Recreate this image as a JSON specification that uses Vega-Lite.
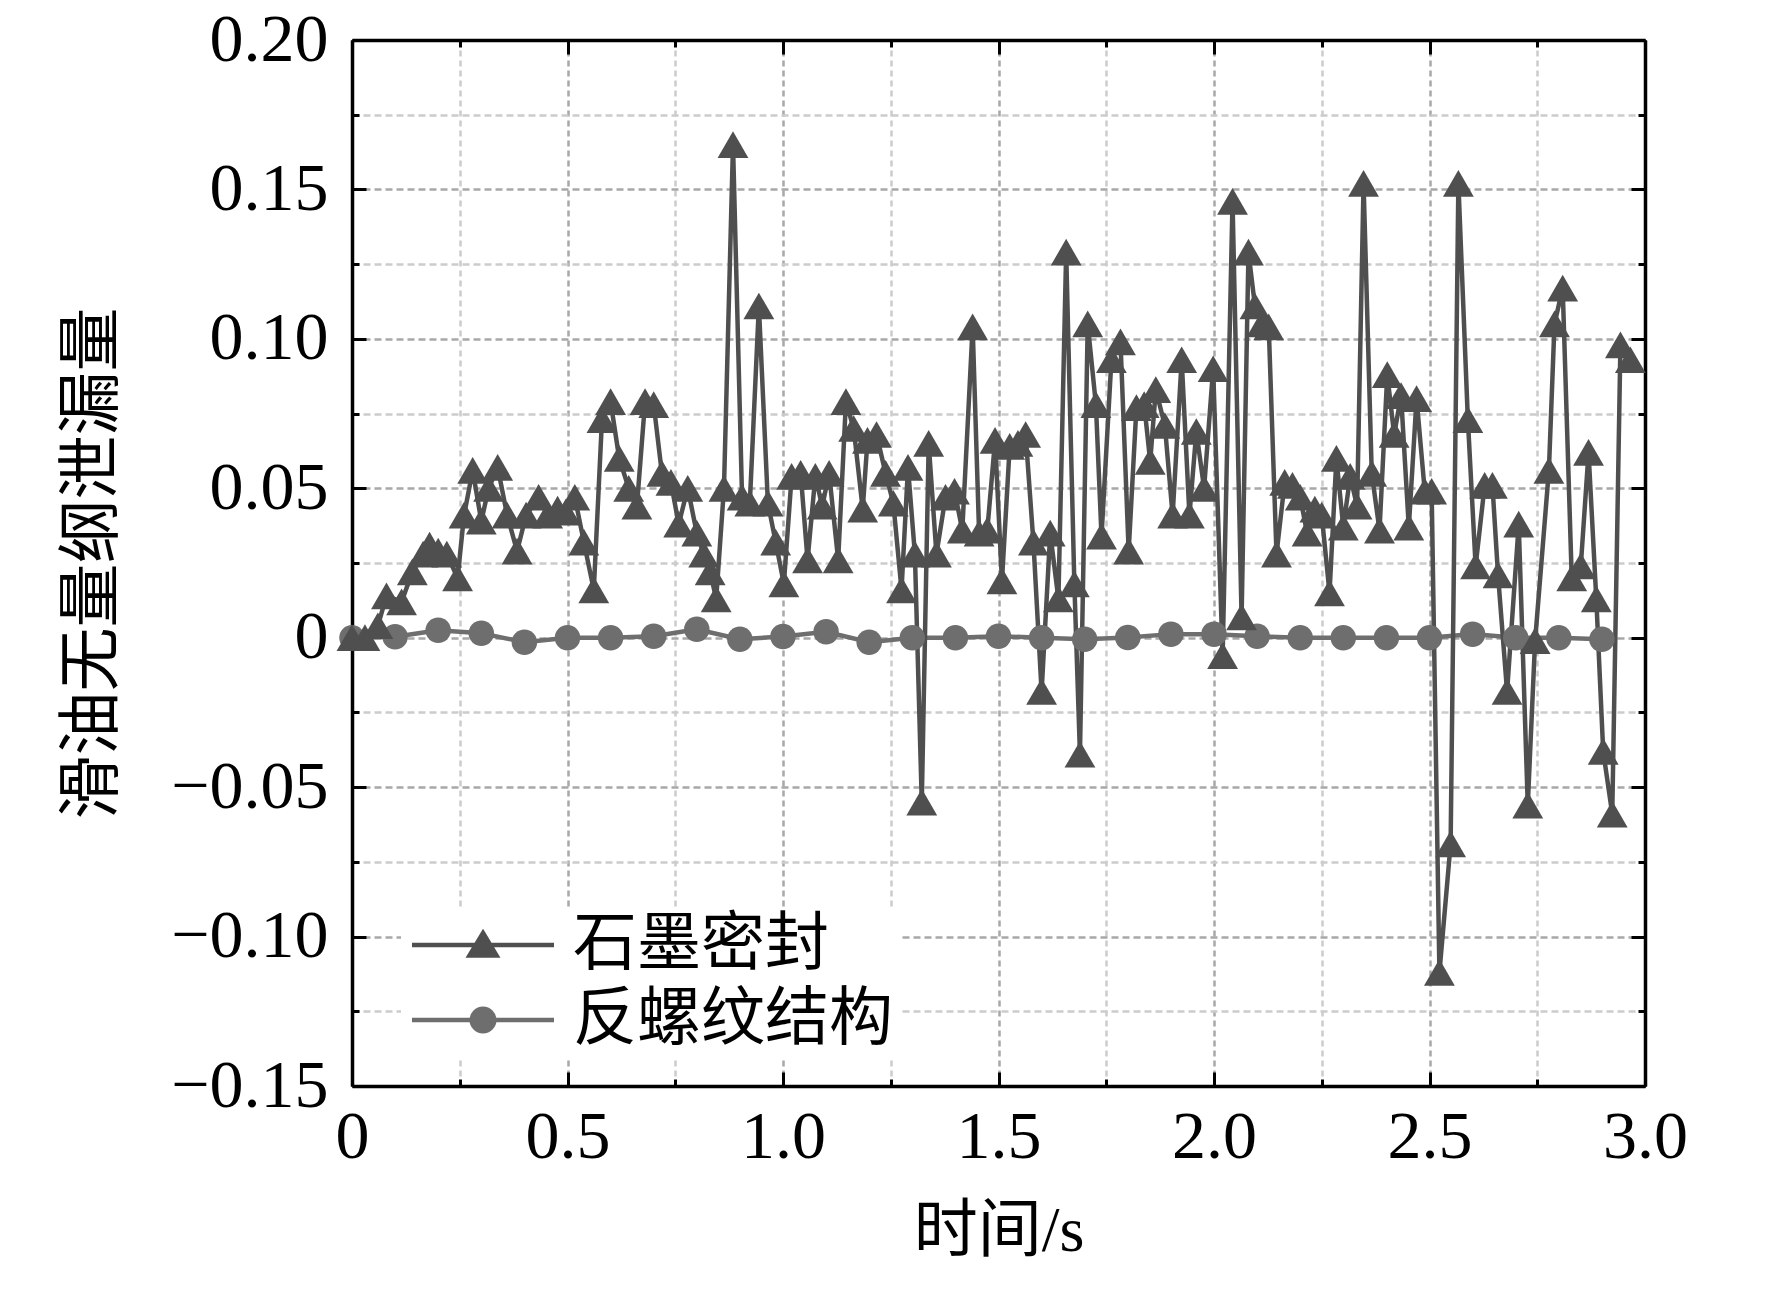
{
  "$schema": "https://vega.github.io/schema/vega-lite/v6.json",
  "width": 1293,
  "height": 1046,
  "autosize": {"type": "none"},
  "padding": {"left": 352, "top": 40, "right": 127, "bottom": 205},
  "background": "white",
  "config": {"font": "Liberation Serif", "view": {"stroke": null}},
  "data": {
    "values": [
      {"series": "反螺纹结构", "t": 0.0, "v": 0.0},
      {"series": "反螺纹结构", "t": 0.1, "v": 0.0003},
      {"series": "反螺纹结构", "t": 0.2, "v": 0.0025},
      {"series": "反螺纹结构", "t": 0.3, "v": 0.0015},
      {"series": "反螺纹结构", "t": 0.4, "v": -0.0015},
      {"series": "反螺纹结构", "t": 0.5, "v": 0.0},
      {"series": "反螺纹结构", "t": 0.6, "v": 0.0},
      {"series": "反螺纹结构", "t": 0.7, "v": 0.0005},
      {"series": "反螺纹结构", "t": 0.8, "v": 0.0028},
      {"series": "反螺纹结构", "t": 0.9, "v": -0.0005},
      {"series": "反螺纹结构", "t": 1.0, "v": 0.0004},
      {"series": "反螺纹结构", "t": 1.1, "v": 0.002},
      {"series": "反螺纹结构", "t": 1.2, "v": -0.0015},
      {"series": "反螺纹结构", "t": 1.3, "v": 0.0},
      {"series": "反螺纹结构", "t": 1.4, "v": 0.0},
      {"series": "反螺纹结构", "t": 1.5, "v": 0.0005},
      {"series": "反螺纹结构", "t": 1.6, "v": 0.0},
      {"series": "反螺纹结构", "t": 1.7, "v": -0.0005},
      {"series": "反螺纹结构", "t": 1.8, "v": 0.0001},
      {"series": "反螺纹结构", "t": 1.9, "v": 0.0012},
      {"series": "反螺纹结构", "t": 2.0, "v": 0.0012},
      {"series": "反螺纹结构", "t": 2.1, "v": 0.0005},
      {"series": "反螺纹结构", "t": 2.2, "v": 0.0},
      {"series": "反螺纹结构", "t": 2.3, "v": 0.0},
      {"series": "反螺纹结构", "t": 2.4, "v": 0.0},
      {"series": "反螺纹结构", "t": 2.5, "v": 0.0},
      {"series": "反螺纹结构", "t": 2.6, "v": 0.0012},
      {"series": "反螺纹结构", "t": 2.7, "v": 0.0},
      {"series": "反螺纹结构", "t": 2.8, "v": 0.0},
      {"series": "反螺纹结构", "t": 2.9, "v": -0.0005},
      {"series": "石墨密封", "t": 0.0, "v": 0.0},
      {"series": "石墨密封", "t": 0.03, "v": 0.0},
      {"series": "石墨密封", "t": 0.06, "v": 0.004},
      {"series": "石墨密封", "t": 0.08, "v": 0.014},
      {"series": "石墨密封", "t": 0.115, "v": 0.012},
      {"series": "石墨密封", "t": 0.14, "v": 0.022},
      {"series": "石墨密封", "t": 0.165, "v": 0.028},
      {"series": "石墨密封", "t": 0.18, "v": 0.031},
      {"series": "石墨密封", "t": 0.2, "v": 0.029},
      {"series": "石墨密封", "t": 0.22, "v": 0.028},
      {"series": "石墨密封", "t": 0.245, "v": 0.02},
      {"series": "石墨密封", "t": 0.26, "v": 0.041},
      {"series": "石墨密封", "t": 0.28, "v": 0.056},
      {"series": "石墨密封", "t": 0.3, "v": 0.039},
      {"series": "石墨密封", "t": 0.317, "v": 0.05},
      {"series": "石墨密封", "t": 0.338, "v": 0.057},
      {"series": "石墨密封", "t": 0.36, "v": 0.041},
      {"series": "石墨密封", "t": 0.383, "v": 0.029},
      {"series": "石墨密封", "t": 0.404, "v": 0.041},
      {"series": "石墨密封", "t": 0.433, "v": 0.047},
      {"series": "石墨密封", "t": 0.454, "v": 0.041},
      {"series": "石墨密封", "t": 0.477, "v": 0.043},
      {"series": "石墨密封", "t": 0.496, "v": 0.042},
      {"series": "石墨密封", "t": 0.517, "v": 0.047},
      {"series": "石墨密封", "t": 0.538, "v": 0.032},
      {"series": "石墨密封", "t": 0.561, "v": 0.016},
      {"series": "石墨密封", "t": 0.58, "v": 0.073},
      {"series": "石墨密封", "t": 0.6, "v": 0.079},
      {"series": "石墨密封", "t": 0.62, "v": 0.06},
      {"series": "石墨密封", "t": 0.642, "v": 0.05},
      {"series": "石墨密封", "t": 0.661, "v": 0.044},
      {"series": "石墨密封", "t": 0.68, "v": 0.079},
      {"series": "石墨密封", "t": 0.7, "v": 0.078},
      {"series": "石墨密封", "t": 0.719, "v": 0.055},
      {"series": "石墨密封", "t": 0.74, "v": 0.052},
      {"series": "石墨密封", "t": 0.758, "v": 0.038},
      {"series": "石墨密封", "t": 0.779, "v": 0.05},
      {"series": "石墨密封", "t": 0.8, "v": 0.035},
      {"series": "石墨密封", "t": 0.816, "v": 0.028},
      {"series": "石墨密封", "t": 0.831, "v": 0.022},
      {"series": "石墨密封", "t": 0.845, "v": 0.013},
      {"series": "石墨密封", "t": 0.863, "v": 0.05},
      {"series": "石墨密封", "t": 0.884, "v": 0.165},
      {"series": "石墨密封", "t": 0.905, "v": 0.047},
      {"series": "石墨密封", "t": 0.923, "v": 0.045},
      {"series": "石墨密封", "t": 0.944, "v": 0.111},
      {"series": "石墨密封", "t": 0.965, "v": 0.045},
      {"series": "石墨密封", "t": 0.983, "v": 0.032},
      {"series": "石墨密封", "t": 1.002, "v": 0.018},
      {"series": "石墨密封", "t": 1.02, "v": 0.054},
      {"series": "石墨密封", "t": 1.041, "v": 0.055},
      {"series": "石墨密封", "t": 1.057, "v": 0.026},
      {"series": "石墨密封", "t": 1.075, "v": 0.054},
      {"series": "石墨密封", "t": 1.091, "v": 0.044},
      {"series": "石墨密封", "t": 1.107, "v": 0.055},
      {"series": "石墨密封", "t": 1.128, "v": 0.026},
      {"series": "石墨密封", "t": 1.146, "v": 0.079},
      {"series": "石墨密封", "t": 1.164, "v": 0.07},
      {"series": "石墨密封", "t": 1.185, "v": 0.043},
      {"series": "石墨密封", "t": 1.196, "v": 0.066},
      {"series": "石墨密封", "t": 1.217, "v": 0.068},
      {"series": "石墨密封", "t": 1.238, "v": 0.055},
      {"series": "石墨密封", "t": 1.256, "v": 0.045},
      {"series": "石墨密封", "t": 1.275, "v": 0.016},
      {"series": "石墨密封", "t": 1.29, "v": 0.057},
      {"series": "石墨密封", "t": 1.306, "v": 0.028},
      {"series": "石墨密封", "t": 1.322, "v": -0.055},
      {"series": "石墨密封", "t": 1.338, "v": 0.065},
      {"series": "石墨密封", "t": 1.356, "v": 0.028},
      {"series": "石墨密封", "t": 1.377, "v": 0.047},
      {"series": "石墨密封", "t": 1.398, "v": 0.049},
      {"series": "石墨密封", "t": 1.416, "v": 0.036},
      {"series": "石墨密封", "t": 1.44, "v": 0.104},
      {"series": "石墨密封", "t": 1.455, "v": 0.035},
      {"series": "石墨密封", "t": 1.474, "v": 0.036},
      {"series": "石墨密封", "t": 1.492, "v": 0.066},
      {"series": "石墨密封", "t": 1.508, "v": 0.019},
      {"series": "石墨密封", "t": 1.526, "v": 0.064},
      {"series": "石墨密封", "t": 1.545, "v": 0.065},
      {"series": "石墨密封", "t": 1.563, "v": 0.068},
      {"series": "石墨密封", "t": 1.581, "v": 0.032},
      {"series": "石墨密封", "t": 1.6, "v": -0.018},
      {"series": "石墨密封", "t": 1.62, "v": 0.035},
      {"series": "石墨密封", "t": 1.639, "v": 0.013},
      {"series": "石墨密封", "t": 1.657, "v": 0.129},
      {"series": "石墨密封", "t": 1.676, "v": 0.018},
      {"series": "石墨密封", "t": 1.689, "v": -0.039},
      {"series": "石墨密封", "t": 1.707, "v": 0.105},
      {"series": "石墨密封", "t": 1.726, "v": 0.078},
      {"series": "石墨密封", "t": 1.739, "v": 0.034},
      {"series": "石墨密封", "t": 1.762, "v": 0.093},
      {"series": "石墨密封", "t": 1.783, "v": 0.099},
      {"series": "石墨密封", "t": 1.802, "v": 0.029},
      {"series": "石墨密封", "t": 1.82, "v": 0.077},
      {"series": "石墨密封", "t": 1.838, "v": 0.078},
      {"series": "石墨密封", "t": 1.852, "v": 0.059},
      {"series": "石墨密封", "t": 1.865, "v": 0.083},
      {"series": "石墨密封", "t": 1.886, "v": 0.071},
      {"series": "石墨密封", "t": 1.904, "v": 0.041},
      {"series": "石墨密封", "t": 1.925, "v": 0.093},
      {"series": "石墨密封", "t": 1.943, "v": 0.041},
      {"series": "石墨密封", "t": 1.959, "v": 0.069},
      {"series": "石墨密封", "t": 1.977, "v": 0.05},
      {"series": "石墨密封", "t": 1.998, "v": 0.09},
      {"series": "石墨密封", "t": 2.02, "v": -0.006},
      {"series": "石墨密封", "t": 2.043, "v": 0.146},
      {"series": "石墨密封", "t": 2.064, "v": 0.007},
      {"series": "石墨密封", "t": 2.08, "v": 0.129},
      {"series": "石墨密封", "t": 2.095, "v": 0.111},
      {"series": "石墨密封", "t": 2.111, "v": 0.105},
      {"series": "石墨密封", "t": 2.127, "v": 0.104},
      {"series": "石墨密封", "t": 2.145, "v": 0.028},
      {"series": "石墨密封", "t": 2.164, "v": 0.052},
      {"series": "石墨密封", "t": 2.182, "v": 0.051},
      {"series": "石墨密封", "t": 2.2, "v": 0.047},
      {"series": "石墨密封", "t": 2.216, "v": 0.035},
      {"series": "石墨密封", "t": 2.234, "v": 0.043},
      {"series": "石墨密封", "t": 2.25, "v": 0.041},
      {"series": "石墨密封", "t": 2.268, "v": 0.015},
      {"series": "石墨密封", "t": 2.284, "v": 0.06},
      {"series": "石墨密封", "t": 2.3, "v": 0.037},
      {"series": "石墨密封", "t": 2.316, "v": 0.054},
      {"series": "石墨密封", "t": 2.332, "v": 0.044},
      {"series": "石墨密封", "t": 2.347, "v": 0.152},
      {"series": "石墨密封", "t": 2.366, "v": 0.055},
      {"series": "石墨密封", "t": 2.384, "v": 0.036},
      {"series": "石墨密封", "t": 2.402, "v": 0.088},
      {"series": "石墨密封", "t": 2.418, "v": 0.068},
      {"series": "石墨密封", "t": 2.434, "v": 0.081},
      {"series": "石墨密封", "t": 2.452, "v": 0.037},
      {"series": "石墨密封", "t": 2.47, "v": 0.08},
      {"series": "石墨密封", "t": 2.489, "v": 0.049},
      {"series": "石墨密封", "t": 2.505, "v": 0.049},
      {"series": "石墨密封", "t": 2.523, "v": -0.112},
      {"series": "石墨密封", "t": 2.549, "v": -0.069},
      {"series": "石墨密封", "t": 2.567, "v": 0.152},
      {"series": "石墨密封", "t": 2.589, "v": 0.073},
      {"series": "石墨密封", "t": 2.607, "v": 0.024},
      {"series": "石墨密封", "t": 2.628, "v": 0.051},
      {"series": "石墨密封", "t": 2.646, "v": 0.051},
      {"series": "石墨密封", "t": 2.659, "v": 0.021},
      {"series": "石墨密封", "t": 2.68, "v": -0.018},
      {"series": "石墨密封", "t": 2.707, "v": 0.038},
      {"series": "石墨密封", "t": 2.728, "v": -0.056},
      {"series": "石墨密封", "t": 2.745, "v": -0.001},
      {"series": "石墨密封", "t": 2.777, "v": 0.056},
      {"series": "石墨密封", "t": 2.79, "v": 0.105},
      {"series": "石墨密封", "t": 2.809, "v": 0.117},
      {"series": "石墨密封", "t": 2.83, "v": 0.02},
      {"series": "石墨密封", "t": 2.851, "v": 0.024},
      {"series": "石墨密封", "t": 2.869, "v": 0.062},
      {"series": "石墨密封", "t": 2.887, "v": 0.013},
      {"series": "石墨密封", "t": 2.903, "v": -0.038},
      {"series": "石墨密封", "t": 2.924, "v": -0.059},
      {"series": "石墨密封", "t": 2.943, "v": 0.098},
      {"series": "石墨密封", "t": 2.966, "v": 0.093}
    ]
  },
  "layer": [
    {
      "mark": {"type": "line", "strokeWidth": 4.5},
      "encoding": {
        "x": {
          "field": "t", "type": "quantitative",
          "scale": {"domain": [0, 3], "nice": false, "zero": false},
          "axis": {
            "orient": "bottom",
            "values": [0, 0.25, 0.5, 0.75, 1, 1.25, 1.5, 1.75, 2, 2.25, 2.5, 2.75, 3],
            "labelExpr": "round(datum.value*4) % 2 == 0 ? (datum.value == 0 ? '0' : format(datum.value, '.1f')) : ''",
            "labelOverlap": false, "labelFlush": false,
            "labelFont": "Liberation Serif", "labelFontSize": 68, "labelColor": "black", "labelPadding": 31,
            "grid": true,
            "gridColor": {"condition": {"test": "round(datum.value*4) % 2 == 0", "value": "#a8a8a8"}, "value": "#cccccc"},
            "gridDash": [6, 4], "gridWidth": 2.5,
            "domainColor": "black", "domainWidth": 3.5,
            "tickColor": "black", "tickWidth": 3,
            "tickSize": {"condition": {"test": "round(datum.value*4) % 2 == 0", "value": -14}, "value": -7},
            "title": "时间/s",
            "titleFont": "Liberation Serif, Noto Sans CJK SC", "titleFontSize": 64, "titleFontWeight": "normal", "titleColor": "black",
            "titlePadding": 21
          }
        },
        "y": {
          "field": "v", "type": "quantitative",
          "scale": {"domain": [-0.15, 0.2], "nice": false, "zero": false},
          "axis": {
            "orient": "left",
            "values": [-0.15, -0.125, -0.1, -0.075, -0.05, -0.025, 0, 0.025, 0.05, 0.075, 0.1, 0.125, 0.15, 0.175, 0.2],
            "labelExpr": "round(datum.value*40) % 2 == 0 ? (datum.value == 0 ? '0' : replace(format(datum.value, '.2f'), '-', '−')) : ''",
            "labelOverlap": false, "labelFlush": false,
            "labelFont": "Liberation Serif", "labelFontSize": 68, "labelColor": "black", "labelPadding": 38,
            "grid": true,
            "gridColor": {"condition": {"test": "round(datum.value*40) % 2 == 0", "value": "#a8a8a8"}, "value": "#cccccc"},
            "gridDash": [7, 4], "gridWidth": 2.5,
            "domainColor": "black", "domainWidth": 3.5,
            "tickColor": "black", "tickWidth": 3,
            "tickSize": {"condition": {"test": "round(datum.value*40) % 2 == 0", "value": -14}, "value": -7},
            "title": "滑油无量纲泄漏量",
            "titleFont": "Noto Sans CJK SC", "titleFontSize": 64, "titleFontWeight": "normal", "titleColor": "black",
            "titlePadding": 46
          }
        },
        "color": {
          "field": "series", "type": "nominal",
          "scale": {"domain": ["石墨密封", "反螺纹结构"], "range": ["#4f4f4f", "#6e6e6e"]},
          "legend": {
            "title": null,
            "orient": "none", "legendX": 49, "legendY": 867,
            "direction": "vertical",
            "fillColor": "white", "padding": 6,
            "labelFont": "Noto Sans CJK SC", "labelFontSize": 64, "labelColor": "black", "labelLimit": 0,
            "labelOffset": 102, "rowPadding": 11,
            "symbolSize": 2500,
            "symbolStrokeWidth": 4.5,
            "symbolType": {"expr": "datum.value === '石墨密封' ? 'M-1.08,0L4.6,0M1.76,-0.48L2.3,0.42L1.22,0.42Z' : 'M-1.08,0L4.6,0M2.21,0A0.45,0.45,0,1,1,1.31,0A0.45,0.45,0,1,1,2.21,0Z'"},
            "symbolFillColor": {"expr": "datum.value === '石墨密封' ? '#4f4f4f' : '#6e6e6e'"}
          }
        }
      }
    },
    {
      "mark": {"type": "point", "filled": true, "opacity": 1, "strokeWidth": 0},
      "encoding": {
        "x": {
          "field": "t", "type": "quantitative",
          "scale": {"domain": [0, 3], "nice": false, "zero": false},
          "axis": {
            "orient": "top",
            "values": [0, 0.25, 0.5, 0.75, 1, 1.25, 1.5, 1.75, 2, 2.25, 2.5, 2.75, 3],
            "labels": false, "grid": false, "title": null,
            "domainColor": "black", "domainWidth": 3.5,
            "tickColor": "black", "tickWidth": 3,
            "tickSize": {"condition": {"test": "round(datum.value*4) % 2 == 0", "value": -14}, "value": -7}
          }
        },
        "y": {
          "field": "v", "type": "quantitative",
          "scale": {"domain": [-0.15, 0.2], "nice": false, "zero": false},
          "axis": {
            "orient": "right",
            "values": [-0.15, -0.125, -0.1, -0.075, -0.05, -0.025, 0, 0.025, 0.05, 0.075, 0.1, 0.125, 0.15, 0.175, 0.2],
            "labels": false, "grid": false, "title": null,
            "domainColor": "black", "domainWidth": 3.5,
            "tickColor": "black", "tickWidth": 3,
            "tickSize": {"condition": {"test": "round(datum.value*40) % 2 == 0", "value": -14}, "value": -7}
          }
        },
        "color": {
          "field": "series", "type": "nominal",
          "scale": {"domain": ["石墨密封", "反螺纹结构"], "range": ["#4f4f4f", "#6e6e6e"]},
          "legend": null
        },
        "shape": {
          "field": "series", "type": "nominal",
          "scale": {"domain": ["反螺纹结构", "石墨密封"], "range": ["circle", "triangle-up"]},
          "legend": null
        },
        "size": {
          "field": "series", "type": "nominal",
          "scale": {"domain": ["反螺纹结构", "石墨密封"], "range": [650, 950]},
          "legend": null
        }
      }
    }
  ]
}
